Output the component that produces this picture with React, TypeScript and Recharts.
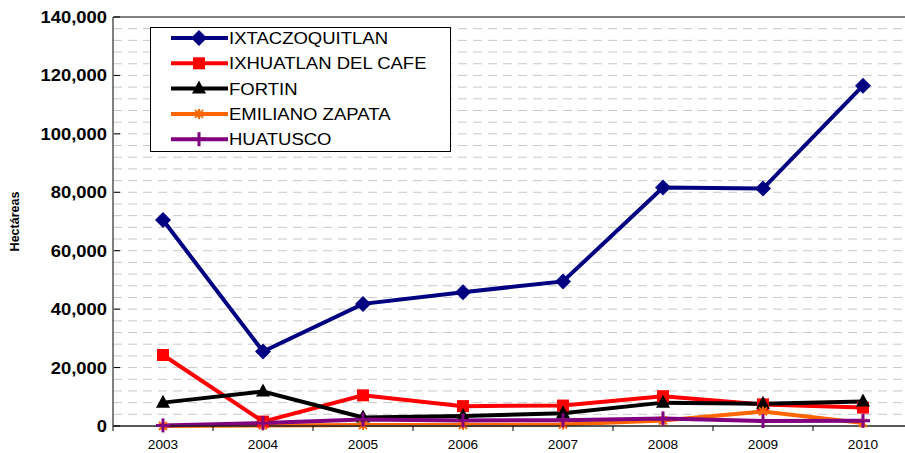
import React from "react";
import {
  LineChart,
  Line,
  XAxis,
  YAxis,
  CartesianGrid,
  ReferenceLine,
  Legend,
} from "recharts";

const years = [2003, 2004, 2005, 2006, 2007, 2008, 2009, 2010];
const ixtaczoquitlan = [70500, 25500, 41800, 45800, 49500, 81600, 81300, 116500];
const ixhuatlanDelCafe = [24300, 1500, 10500, 6800, 7000, 10200, 7400, 6300];
const fortin = [8000, 11800, 2900, 3400, 4400, 8000, 7600, 8400];
const emilianoZapata = [0, 200, 300, 300, 500, 1900, 5000, 1000];
const huatusco = [200, 1000, 2200, 1900, 2000, 2600, 1700, 1800];

const Y_MAX = 140000;
const yTicks = [0, 20000, 40000, 60000, 80000, 100000, 120000, 140000];
const gridValues = [
  4000, 8000, 12000, 16000, 20000, 24000, 28000, 32000, 36000, 40000, 44000,
  48000, 52000, 56000, 60000, 64000, 68000, 72000, 76000, 80000, 84000, 88000,
  92000, 96000, 100000, 104000, 108000, 112000, 116000, 120000, 124000, 128000,
  132000, 136000,
];

type Shape = "diamond" | "square" | "triangle" | "star" | "plus";

const series: { key: string; name: string; color: string; shape: Shape; values: number[] }[] = [
  { key: "ixtac", name: "IXTACZOQUITLAN", color: "#000080", shape: "diamond", values: ixtaczoquitlan },
  { key: "ixhua", name: "IXHUATLAN DEL CAFE", color: "#FF0000", shape: "square", values: ixhuatlanDelCafe },
  { key: "fortin", name: "FORTIN", color: "#000000", shape: "triangle", values: fortin },
  { key: "zapata", name: "EMILIANO ZAPATA", color: "#FF6600", shape: "star", values: emilianoZapata },
  { key: "huatusco", name: "HUATUSCO", color: "#800080", shape: "plus", values: huatusco },
];

const data = years.map((year, i) => {
  const row: Record<string, number> = { year };
  series.forEach((s) => (row[s.key] = s.values[i]));
  return row;
});

// layout
const CHART_W = 920;
const CHART_H = 453;
const Y_AXIS_W = 113;
const MARGIN_RIGHT = 7;
const HALF_BAND = (CHART_W - Y_AXIS_W - MARGIN_RIGHT) / years.length / 2;
const FONT = "Liberation Sans, Arial, sans-serif";

function Marker({ shape, cx, cy, color }: { shape: Shape; cx: number; cy: number; color: string }) {
  if (cx == null || cy == null) return null;
  switch (shape) {
    case "diamond":
      return (
        <polygon
          points={`${cx},${cy - 8} ${cx + 8},${cy} ${cx},${cy + 8} ${cx - 8},${cy}`}
          fill={color}
        />
      );
    case "square":
      return <rect x={cx - 6} y={cy - 6} width={12} height={12} fill={color} />;
    case "triangle":
      return (
        <polygon
          points={`${cx},${cy - 8} ${cx + 7},${cy + 5} ${cx - 7},${cy + 5}`}
          fill={color}
        />
      );
    case "star":
      return (
        <g stroke={color} strokeWidth={2}>
          <line x1={cx - 4} y1={cy - 4} x2={cx + 4} y2={cy + 4} />
          <line x1={cx - 4} y1={cy + 4} x2={cx + 4} y2={cy - 4} />
          <line x1={cx} y1={cy - 5} x2={cx} y2={cy + 5} />
        </g>
      );
    case "plus":
      return (
        <g stroke={color} strokeWidth={3}>
          <line x1={cx - 7} y1={cy} x2={cx + 7} y2={cy} />
          <line x1={cx} y1={cy - 7} x2={cx} y2={cy + 7} />
        </g>
      );
  }
  return null;
}

const fmt = (v: number) => v.toLocaleString("en-US");

function YTick(props: any) {
  const { x, y, payload } = props;
  return (
    <g>
      <line x1={x + 1} y1={y} x2={x + 7} y2={y} stroke="#000" strokeWidth={1} />
      <text
        transform={`translate(${x - 6}, ${y + 6}) scale(1.15, 1)`}
        textAnchor="end"
        fontSize={16}
        fontWeight="bold"
        fontFamily={FONT}
        fill="#000"
      >
        {fmt(payload.value)}
      </text>
    </g>
  );
}

function XTick(props: any) {
  const { x, y, payload } = props;
  return (
    <g>
      <line x1={x - HALF_BAND} y1={y} x2={x - HALF_BAND} y2={y + 5} stroke="#000" strokeWidth={1} />
      <text
        transform={`translate(${x}, ${y + 23}) scale(1.05, 1)`}
        textAnchor="middle"
        fontSize={13}
        fontFamily={FONT}
        fill="#000"
      >
        {payload.value}
      </text>
    </g>
  );
}

function LegendBox() {
  return (
    <div
      style={{
        width: 301,
        height: 125,
        boxSizing: "border-box",
        border: "1px solid #000",
        background: "#fff",
      }}
    >
      <svg width={299} height={123} style={{ display: "block" }}>
        {series.map((s, i) => {
          const cy = 10 + i * 25.3;
          return (
            <g key={s.key}>
              <line x1={20} y1={cy} x2={77} y2={cy} stroke={s.color} strokeWidth={4} />
              <Marker shape={s.shape} cx={48} cy={cy} color={s.color} />
              <text
                transform={`translate(78, ${cy + 6}) scale(1.09, 1)`}
                fontSize={17}
                fontFamily={FONT}
                fill="#000"
              >
                {s.name}
              </text>
            </g>
          );
        })}
      </svg>
    </div>
  );
}

export default function App() {
  return (
    <div
      style={{
        position: "absolute",
        left: 0,
        top: 0,
        width: 905,
        height: 453,
        overflow: "hidden",
        background: "#fff",
        fontFamily: FONT,
      }}
    >
      <LineChart
        width={CHART_W}
        height={CHART_H}
        data={data}
        margin={{ top: 17, right: MARGIN_RIGHT, bottom: 0, left: 0 }}
      >
        <CartesianGrid
          vertical={false}
          stroke="#c8c8c8"
          strokeDasharray="9 6"
          horizontalCoordinatesGenerator={({ offset }: any) =>
            gridValues.map((v) => offset.top + offset.height * (1 - v / Y_MAX))
          }
        />
        <XAxis
          type="number"
          dataKey="year"
          domain={[2002.5, 2010.5]}
          ticks={years}
          height={27}
          tickSize={0}
          tickMargin={0}
          tickLine={false}
          axisLine={{ stroke: "#222", strokeWidth: 1.5 }}
          tick={<XTick />}
          interval={0}
          allowDecimals
        />
        <YAxis
          domain={[0, Y_MAX]}
          ticks={yTicks}
          width={Y_AXIS_W}
          tickSize={0}
          tickMargin={0}
          tickLine={false}
          axisLine={{ stroke: "#000", strokeWidth: 1 }}
          tick={<YTick />}
          interval={0}
          label={{
            content: (p: any) => {
              const vb = p.viewBox || { x: 0, y: 17, width: 113, height: 409 };
              const cx = vb.x + 15;
              const cy = vb.y + vb.height / 2;
              return (
                <text
                  x={cx}
                  y={cy}
                  transform={`rotate(-90, ${cx}, ${cy})`}
                  textAnchor="middle"
                  dominantBaseline="central"
                  fontSize={12.5}
                  fontWeight="bold"
                  fontFamily={FONT}
                  fill="#000"
                >
                  Hectáreas
                </text>
              );
            },
          }}
        />
        <ReferenceLine y={Y_MAX} stroke="#808080" strokeWidth={2} />
        {series.map((s) => (
          <Line
            key={s.key}
            type="linear"
            dataKey={s.key}
            name={s.name}
            stroke={s.color}
            strokeWidth={4}
            isAnimationActive={false}
            dot={(p: any) => (
              <Marker key={`${s.key}-${p.index}`} shape={s.shape} cx={p.cx} cy={p.cy} color={s.color} />
            )}
            activeDot={false}
          />
        ))}
        <Legend
          layout="vertical"
          align="center"
          verticalAlign="middle"
          content={() => <LegendBox />}
          wrapperStyle={{ left: 150, top: 27, width: 301, height: 125 }}
        />
      </LineChart>
    </div>
  );
}
